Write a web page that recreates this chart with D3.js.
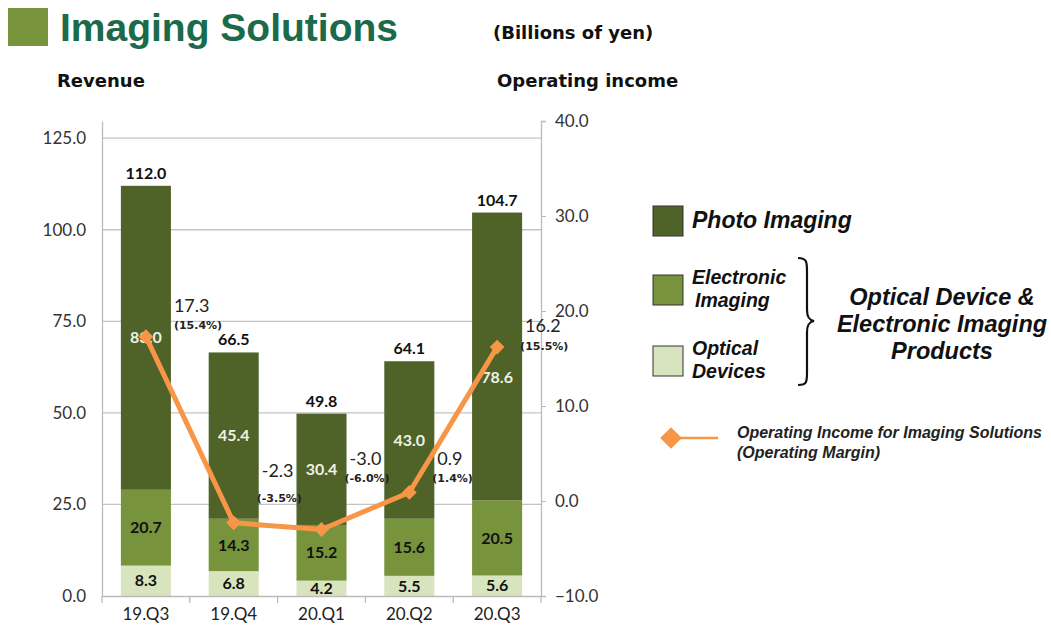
<!DOCTYPE html>
<html>
<head>
<meta charset="utf-8">
<script src="https://cdn.jsdelivr.net/npm/d3@7"></script>
<style>
  body { margin: 0; background: #fff; }
  svg { display: block; }
</style>
</head>
<body>
<svg id="chart" width="1051" height="635"></svg>
<script>
const categories = ["19.Q3", "19.Q4", "20.Q1", "20.Q2", "20.Q3"];
const optical = [8.3, 6.8, 4.2, 5.5, 5.6];
const electronic = [20.7, 14.3, 15.2, 15.6, 20.5];
const photo = [83.0, 45.4, 30.4, 43.0, 78.6];
const totals = [112.0, 66.5, 49.8, 64.1, 104.7];
const income = [17.3, -2.3, -3.0, 0.9, 16.2];
const margins = ["(15.4%)", "(-3.5%)", "(-6.0%)", "(1.4%)", "(15.5%)"];
const leftTicks = [0, 25, 50, 75, 100, 125];
const rightTicks = [-10, 0, 10, 20, 30, 40];

// layout
const plot = { left: 102, right: 541, top: 121, bottom: 596 };
const incomeLabelDy = [-31, -52, -71, -34, -21];
const colors = { photo: "#4f6228", electronic: "#77933c", optical: "#d7e4bd", line: "#f79646" };

const rows = categories.map((c, i) => ({
  cat: c, optical: optical[i], electronic: electronic[i], photo: photo[i]
}));

const svg = d3.select("#chart");

const x = d3.scaleBand().domain(categories).range([plot.left, plot.right]).paddingInner(0.43).paddingOuter(0.215);
const y = d3.scaleLinear().domain([0, 129.7]).range([plot.bottom, plot.top]);
const y2 = d3.scaleLinear().domain([-10, 40]).range([plot.bottom, plot.top]);
const cx = i => x(categories[i]) + x.bandwidth() / 2;

// title block
svg.append("rect").attr("x", 8).attr("y", 8).attr("width", 40).attr("height", 38).attr("fill", "#77933c");
svg.append("text").attr("x", 60).attr("y", 41)
  .style("font", "bold 39px 'Liberation Sans', Arial, sans-serif").attr("fill", "#1b6a4a")
  .text("Imaging Solutions");
const hdr = "bold 18px 'DejaVu Sans', Verdana, sans-serif";
svg.append("text").attr("x", 493).attr("y", 39).style("font", hdr).attr("fill", "#111").text("(Billions of yen)");
svg.append("text").attr("x", 57).attr("y", 87).style("font", hdr).attr("fill", "#111").text("Revenue");
svg.append("text").attr("x", 497).attr("y", 87).style("font", hdr).attr("fill", "#111").text("Operating income");

// gridlines
svg.append("g").selectAll("line").data(leftTicks.filter(d => d > 0)).join("line")
  .attr("x1", plot.left).attr("x2", plot.right)
  .attr("y1", d => y(d)).attr("y2", d => y(d))
  .attr("stroke", "#c4c4c4").attr("stroke-width", 1.3);

// left axis
const axL = svg.append("g").attr("transform", `translate(${plot.left},0)`)
  .call(d3.axisLeft(y).tickValues(leftTicks).tickFormat(d3.format(".1f")).tickSize(0).tickPadding(16));
axL.select(".domain").attr("stroke", "#bbb").attr("stroke-width", 1.3);
axL.selectAll("text").style("font", "17px Lato, 'Open Sans', sans-serif").attr("fill", "#333");

// right axis
const axR = svg.append("g").attr("transform", `translate(${plot.right},0)`)
  .call(d3.axisRight(y2).tickValues(rightTicks).tickFormat(d3.format(".1f")).tickSize(5).tickPadding(9));
axR.select(".domain").attr("stroke", "#bbb").attr("stroke-width", 1.3);
axR.selectAll(".tick line").attr("stroke", "#bbb");
axR.selectAll("text").style("font", "17px Lato, 'Open Sans', sans-serif").attr("fill", "#333");

// bars
const keys = ["optical", "electronic", "photo"];
const stacked = d3.stack().keys(keys)(rows);
svg.append("g").selectAll("g").data(stacked).join("g")
  .attr("fill", d => colors[d.key])
  .selectAll("rect").data(d => d).join("rect")
  .attr("x", d => x(d.data.cat))
  .attr("width", x.bandwidth())
  .attr("y", d => y(d[1]))
  .attr("height", d => y(d[0]) - y(d[1]));

// bottom axis
const axB = svg.append("g").attr("transform", `translate(0,${plot.bottom})`)
  .call(d3.axisBottom(x).tickSize(0).tickPadding(9));
axB.select(".domain").attr("stroke", "#bbb").attr("stroke-width", 1.3);
axB.selectAll("text").style("font", "17px Lato, 'Open Sans', sans-serif").attr("fill", "#222").attr("dy", "0.9em");
svg.append("g").selectAll("line").data(d3.range(categories.length + 1)).join("line")
  .attr("x1", i => plot.left + i * (plot.right - plot.left) / categories.length)
  .attr("x2", i => plot.left + i * (plot.right - plot.left) / categories.length)
  .attr("y1", plot.bottom).attr("y2", plot.bottom + 7)
  .attr("stroke", "#bbb").attr("stroke-width", 1.3);

// segment labels
const segFont = "bold 16px Lato, 'Open Sans', sans-serif";
stacked.forEach(layer => {
  svg.append("g").selectAll("text").data(layer).join("text")
    .attr("x", d => x(d.data.cat) + x.bandwidth() / 2)
    .attr("y", (d, i) => {
      let m = (y(d[0]) + y(d[1])) / 2;
      if (layer.key === "photo" && i === categories.length - 1) m += 21; // moved clear of the marker
      return m;
    })
    .attr("dy", "0.35em")
    .attr("text-anchor", "middle")
    .style("font", segFont)
    .attr("fill", layer.key === "photo" ? "#eef2e4" : "#111")
    .text(d => d.data[layer.key].toFixed(1));
});

// totals
svg.append("g").selectAll("text").data(totals).join("text")
  .attr("x", (d, i) => cx(i))
  .attr("y", d => y(d) - 7)
  .attr("text-anchor", "middle")
  .style("font", segFont).attr("fill", "#111")
  .text(d => d.toFixed(1));

// operating income line
const line = d3.line().x((d, i) => cx(i)).y(d => y2(d));
svg.append("path").datum(income).attr("d", line)
  .attr("fill", "none").attr("stroke", colors.line).attr("stroke-width", 5).attr("stroke-linejoin", "round");
svg.append("g").selectAll("path").data(income).join("path")
  .attr("transform", (d, i) => `translate(${cx(i)},${y2(d)})`)
  .attr("d", d3.symbol(d3.symbolDiamond2, 140)())
  .attr("fill", colors.line);

// income labels
const lbl = svg.append("g").selectAll("g").data(income).join("g")
  .attr("transform", (d, i) => `translate(${x(categories[i]) + x.bandwidth() + 3},${y2(d) + incomeLabelDy[i]})`);
lbl.append("text").attr("dy", "0.35em")
  .style("font", "18px Lato, 'Open Sans', sans-serif").attr("fill", "#222")
  .text(d => d.toFixed(1));
lbl.append("text").attr("x", (d, i) => i === 0 ? 0 : -5).attr("y", (d, i) => i === 1 ? 27 : 20).attr("dy", "0.35em")
  .style("font", "bold 11px 'DejaVu Sans', sans-serif").attr("fill", "#222")
  .text((d, i) => margins[i]);

// legend
const ff = "'Liberation Sans', Arial, sans-serif";
const leg = svg.append("g");
const sq = [
  { key: "photo", y: 206, lines: ["Photo Imaging"], big: true },
  { key: "electronic", y: 275, lines: ["Electronic", "Imaging"] },
  { key: "optical", y: 346, lines: ["Optical", "Devices"] }
];
sq.forEach(s => {
  leg.append("rect").attr("x", 653).attr("y", s.y).attr("width", 30).attr("height", 30)
    .attr("fill", colors[s.key]).attr("stroke", "#333").attr("stroke-width", 1);
  s.lines.forEach((t, j) => {
    leg.append("text").attr("x", 692 + (j === 1 && s.key === "electronic" ? 3 : 0))
      .attr("y", s.big ? s.y + 14 : s.y + 2 + j * 23)
      .attr("dy", "0.35em")
      .style("font", s.big ? `bold italic 23px ${ff}` : `bold italic 19.5px ${ff}`)
      .attr("fill", "#111").text(t);
  });
});
// brace
leg.append("path")
  .attr("d", "M798,258 C807,258 807,262 807,272 L807,310 C807,317 809,320 814,321 C809,322 807,325 807,332 L807,372 C807,382 807,385 798,385")
  .attr("fill", "none").attr("stroke", "#111").attr("stroke-width", 2.2);
["Optical Device &", "Electronic Imaging", "Products"].forEach((t, j) => {
  leg.append("text").attr("x", 942).attr("y", 297 + j * 27).attr("dy", "0.35em").attr("text-anchor", "middle")
    .style("font", `bold italic 23.5px ${ff}`).attr("fill", "#111").text(t);
});
leg.append("line").attr("x1", 672).attr("x2", 718).attr("y1", 438).attr("y2", 438)
  .attr("stroke", colors.line).attr("stroke-width", 2.5);
leg.append("path").attr("transform", "translate(671,438)")
  .attr("d", d3.symbol(d3.symbolDiamond2, 300)()).attr("fill", colors.line);
leg.append("text").attr("x", 737).attr("y", 432).attr("dy", "0.35em").style("font", `bold italic 16px ${ff}`)
  .attr("fill", "#222").text("Operating Income for Imaging Solutions");
leg.append("text").attr("x", 737).attr("y", 452).attr("dy", "0.35em").style("font", `bold italic 16px ${ff}`)
  .attr("fill", "#222").text("(Operating Margin)");
</script>
</body>
</html>
